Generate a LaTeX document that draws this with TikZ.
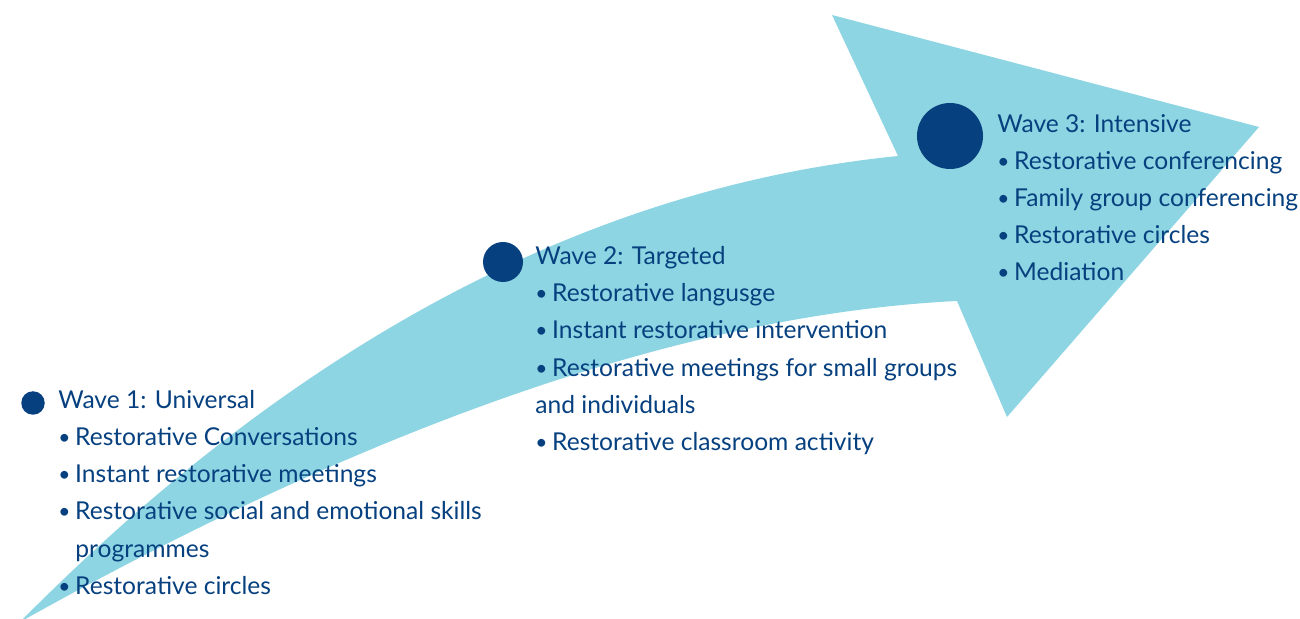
\documentclass[tikz,border=0pt]{standalone}
\usepackage{fontspec}
\setmainfont{Lato}
\definecolor{arrowblue}{HTML}{8DD5E2}
\definecolor{darkblue}{HTML}{06407F}
\newcommand{\bul}{\makebox[8.4pt][l]{\raisebox{0.5pt}{\scalebox{0.85}{\textbullet}}}}
\begin{document}
\begin{tikzpicture}[x=0.5pt,y=-0.5pt,
  dot/.style={circle,fill=darkblue,inner sep=0pt,minimum size=#1},
  txt/.style={anchor=base west,inner sep=0pt,text=darkblue,font=\fontsize{12.3pt}{14pt}\selectfont}]
\useasboundingbox (0,0) rectangle (1300,619);
\begin{scope}
\clip (0,0) rectangle (1300,619);
\fill[arrowblue] (20,622) .. controls (298,341) and (591,187) .. (898,156)
  -- (832,15) -- (1259,127) -- (1007,417) -- (957,301)
  .. controls (694,314) and (381,420) .. (20,622) -- cycle;
\end{scope}
% circles
\node[dot=11.75pt] (c1) at (33,403) {};
\node[dot=20pt] (c2) at (503,262) {};
\node[dot=33pt] (c3) at (950,136) {};
% wave 1
\node[txt] (w1) at (58,409) {Wave 1: Universal};
\node[txt] (w1a) at (58,446) {\bul Restorative Conversations};
\node[txt] (w1b) at (58,483) {\bul Instant restorative meetings};
\node[txt] (w1c) at (58,520) {\bul Restorative social and emotional skills};
\node[txt] (w1d) at (75,557) {programmes};
\node[txt] (w1e) at (58,594) {\bul Restorative circles};
% wave 2
\node[txt] (w2) at (535,265) {Wave 2: Targeted};
\node[txt] (w2a) at (535,302) {\bul Restorative langusge};
\node[txt] (w2b) at (535,339) {\bul Instant restorative intervention};
\node[txt] (w2c) at (535,377) {\bul Restorative meetings for small groups};
\node[txt] (w2d) at (535,414) {and individuals};
\node[txt] (w2e) at (535,451) {\bul Restorative classroom activity};
% wave 3
\node[txt] (w3) at (997,133) {Wave 3: Intensive};
\node[txt] (w3a) at (997,170) {\bul Restorative conferencing};
\node[txt] (w3b) at (997,207) {\bul Family group conferencing};
\node[txt] (w3c) at (997,244) {\bul Restorative circles};
\node[txt] (w3d) at (997,281) {\bul Mediation};
\end{tikzpicture}
\end{document}
